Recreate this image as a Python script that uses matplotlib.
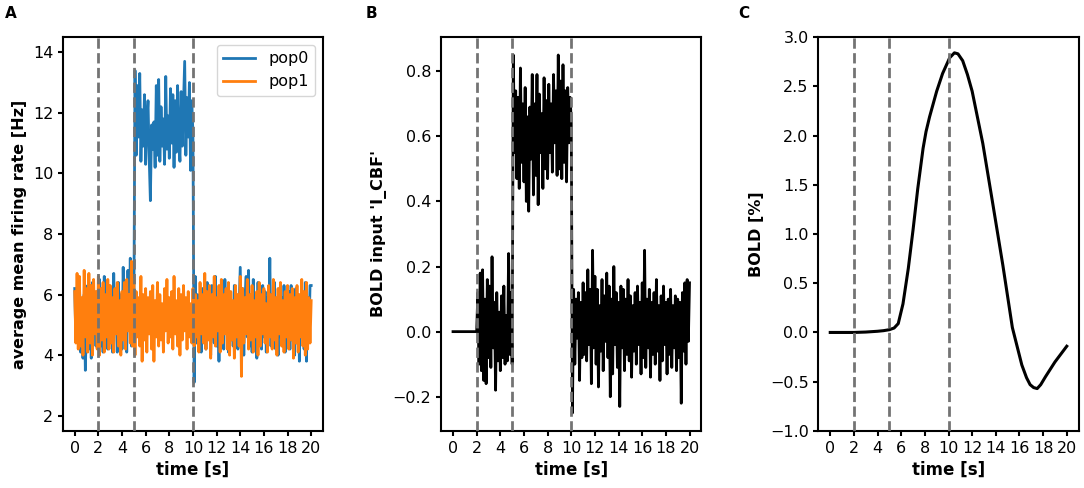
import numpy as np
import matplotlib
matplotlib.use('Agg')
import matplotlib.pyplot as plt

# sampling grid of the rate / input traces (0.1 s steps, 0..20 s)
dt = 0.1
events = [2, 5, 10]
xticks = list(range(0, 21, 2))

# panel A: average mean firing rate [Hz]
pop0 = [6.2, 4.5, 5.8, 4.4, 6.5, 4.1, 5.5, 3.9, 6.0, 3.5,
        5.2, 6.3, 4.2, 5.9, 3.9, 6.4, 4.7, 5.6, 4.3, 6.1,
        4.8, 6.5, 4.3, 5.7, 4.1, 6.6, 4.9, 5.4, 4.2, 6.3,
        4.6, 5.9, 4.1, 6.7, 4.8, 5.5, 4.1, 6.4, 4.5, 6.0,
        4.2, 6.9, 4.9, 5.8, 4.1, 6.8, 5.0, 7.2, 4.3, 6.6,
        5.1,
        13.4, 10.6, 12.9, 11.2, 13.3, 10.4, 12.1, 10.9, 12.6,
        10.3, 11.7, 12.4, 10.5, 9.1, 11.6, 10.8, 11.7, 10.2, 12.9,
        10.6, 13.1, 10.4, 12.2, 10.9, 11.8, 10.3, 13.2, 10.8, 11.9,
        10.5, 12.8, 11.0, 12.6, 10.2, 12.4, 10.7, 12.9, 11.1, 10.4,
        12.7, 10.9, 12.3, 13.7, 10.6, 12.5, 11.2, 13.0, 10.1, 12.4,
        11.3,
        3.1, 6.6, 4.4, 6.0, 4.7, 5.8, 4.1, 6.2, 4.8,
        5.9, 4.2, 6.4, 4.6, 5.7, 4.0, 6.3, 5.0, 4.4, 6.6,
        4.3, 5.8, 3.8, 6.2, 4.7, 6.0, 4.2, 6.5, 4.9, 5.5,
        4.1, 6.1, 4.5, 5.7, 4.3, 6.3, 4.8, 6.0, 4.2, 5.6,
        6.9, 4.4, 6.2, 4.0, 5.9, 6.6, 4.6, 6.8, 4.3, 5.7,
        4.1, 6.5, 4.7, 6.0, 3.9, 6.4, 4.5, 5.8, 4.2, 6.3,
        4.6, 6.1, 4.1, 5.9, 4.8, 7.2, 4.3, 6.0, 4.5, 6.4,
        4.2, 5.8, 4.0, 6.2, 4.6, 5.9, 4.3, 6.3, 4.1, 5.7,
        4.7, 6.1, 4.2, 6.3, 4.5, 5.8, 4.0, 6.2, 4.4, 5.9,
        3.8, 6.0, 4.6, 5.7, 4.2, 6.4, 3.8, 5.9, 4.5, 6.3,
        6.3]

pop1 = [6.1, 4.4, 6.7, 4.2, 6.6, 4.3, 5.9, 4.0, 6.8, 4.6,
        6.2, 4.1, 6.7, 4.4, 6.3, 4.0, 6.5, 4.7, 6.1, 4.2,
        6.6, 4.0, 6.2, 4.5, 6.4, 4.1, 6.0, 4.6, 6.5, 4.2,
        6.3, 4.4, 5.9, 4.1, 6.2, 4.7, 6.4, 4.3, 5.8, 4.0,
        6.1, 4.5, 6.4, 4.2, 6.5, 4.8, 6.0, 4.4, 7.1, 4.3,
        6.5, 4.0, 6.1, 4.6, 5.9, 4.3, 6.6, 3.8, 6.0, 4.5,
        6.2, 4.1, 5.9, 4.7, 6.1, 4.2, 6.3, 3.8, 5.8, 4.6,
        6.4, 4.3, 6.0, 4.5, 5.7, 4.1, 6.2, 4.8, 6.5, 4.4,
        5.9, 4.6, 6.1, 4.2, 6.6, 4.7, 5.8, 4.3, 6.2, 4.0,
        6.0, 4.5, 6.3, 4.8, 5.9, 4.2, 6.1, 4.6, 5.7, 4.4,
        6.2, 4.3, 6.0, 4.6, 5.8, 4.1, 6.4, 4.7, 6.0, 4.4,
        6.7, 4.2, 6.1, 4.5, 6.3, 3.9, 6.0, 4.6, 6.6, 4.3,
        5.9, 4.8, 6.3, 4.1, 6.5, 4.4, 6.0, 4.7, 6.2, 4.2,
        6.4, 4.0, 6.1, 4.5, 5.8, 3.9, 6.3, 4.6, 6.0, 4.3,
        6.6, 3.3, 6.2, 4.4, 5.9, 4.7, 6.5, 4.2, 6.0, 4.5,
        6.3, 4.1, 5.8, 4.6, 6.1, 4.0, 6.4, 4.3, 6.0, 4.7,
        6.2, 4.4, 5.7, 4.1, 6.3, 4.6, 6.0, 4.2, 6.5, 4.5,
        5.9, 4.0, 6.2, 4.7, 6.4, 4.3, 5.8, 4.1, 6.1, 4.6,
        6.3, 4.2, 6.0, 4.5, 6.2, 3.9, 5.9, 4.4, 6.3, 4.1,
        6.0, 4.6, 6.5, 4.3, 6.1, 4.0, 6.4, 4.2, 5.9, 4.4,
        5.8]

# panel B: BOLD input 'I_CBF'
i_cbf = [0.0] * 21 + [
    0.12, -0.10, 0.18, -0.12, 0.19, -0.15, 0.10, -0.16, 0.16,
    -0.08, 0.14, -0.11, 0.23, -0.05, 0.09, -0.18, 0.12, -0.09, 0.06,
    -0.12, 0.11, -0.08, 0.14, -0.10, 0.05, -0.09, 0.24, -0.07, 0.12,
    -0.10,
    0.85, 0.55, 0.74, 0.47, 0.72, 0.44, 0.81, 0.52, 0.70,
    0.46, 0.75, 0.40, 0.66, 0.37, 0.69, 0.53, 0.79, 0.42, 0.70,
    0.48, 0.79, 0.39, 0.73, 0.55, 0.67, 0.44, 0.78, 0.50, 0.71,
    0.47, 0.76, 0.55, 0.70, 0.49, 0.79, 0.58, 0.74, 0.48, 0.85,
    0.50, 0.77, 0.47, 0.82, 0.52, 0.74, 0.46, 0.75, 0.58, 0.72,
    0.65,
    -0.25, 0.13, -0.10, 0.10, -0.02, 0.12, -0.15, 0.09, -0.08,
    0.15, -0.07, 0.12, -0.09, 0.19, -0.04, 0.13, -0.16, 0.25, -0.05,
    0.17, -0.10, 0.13, -0.17, 0.08, -0.06, 0.16, -0.12, 0.11, -0.03,
    0.18, -0.08, 0.14, -0.20, 0.10, -0.13, 0.20, -0.04, 0.12, -0.11,
    0.09, -0.23, 0.14, -0.05, 0.13, -0.12, 0.10, -0.07, 0.16, -0.09,
    0.11, -0.14, 0.08, -0.06, 0.12, -0.10, 0.14, -0.04, 0.09, -0.13,
    0.15, -0.08, 0.25, -0.11, 0.10, -0.05, 0.13, -0.14, 0.09, -0.07,
    0.12, -0.10, 0.16, -0.06, 0.08, -0.15, 0.11, -0.09, 0.14, -0.04,
    0.09, -0.13, 0.10, -0.07, 0.13, -0.11, 0.08, -0.05, 0.11, -0.12,
    0.10, -0.08, 0.09, -0.22, 0.12, -0.06, 0.15, -0.10, 0.16, -0.03,
    0.15]

# panel C: BOLD signal [%]
bold_time = [0, 1, 2, 3, 4, 4.5, 5.0, 5.4, 5.75, 6.15, 6.6, 7.0, 7.4, 7.85,
             8.1, 8.4, 9.0, 9.5, 10.1, 10.5, 10.8, 11.2, 11.6, 12.0, 12.9,
             13.7, 14.6, 15.4, 16.2, 16.6, 16.9, 17.2, 17.5, 17.8, 18.2,
             19.0, 20.0]
bold = [0, 0, 0, 0.004, 0.012, 0.018, 0.028, 0.045, 0.09, 0.29, 0.65, 1.04,
        1.46, 1.87, 2.04, 2.19, 2.45, 2.63, 2.79, 2.84, 2.83, 2.76, 2.62,
        2.45, 1.92, 1.34, 0.68, 0.05, -0.33, -0.46, -0.53, -0.56, -0.57,
        -0.53, -0.45, -0.30, -0.14]

time = np.arange(len(pop0)) * dt

plt.rcParams['font.family'] = 'DejaVu Sans'
plt.rcParams['font.size'] = 11.5
plt.rcParams['axes.linewidth'] = 1.5
plt.rcParams['xtick.major.width'] = 1.5
plt.rcParams['ytick.major.width'] = 1.5

fig = plt.figure(figsize=(10.84, 4.88), dpi=100)
ax_a = fig.add_axes([0.058, 0.117, 0.240, 0.807])
ax_b = fig.add_axes([0.407, 0.117, 0.240, 0.807])
ax_c = fig.add_axes([0.755, 0.117, 0.240, 0.807])

# A
ax_a.plot(time, pop0, color='#1f77b4', lw=2, label='pop0')
ax_a.plot(time, pop1, color='#ff7f0e', lw=2, label='pop1')
ax_a.set_ylim(1.5, 14.5)
ax_a.set_yticks([2, 4, 6, 8, 10, 12, 14])
ax_a.set_ylabel('average mean firing rate [Hz]', fontweight='bold', fontsize=11.5)
ax_a.legend(loc='upper right', fontsize=11.5)

# B
ax_b.plot(time, i_cbf, color='k', lw=2)
ax_b.set_ylabel("BOLD input 'I_CBF'", fontweight='bold', fontsize=11.5)

# C
ax_c.plot(bold_time, bold, color='k', lw=2.2)
ax_c.set_ylim(-1.0, 3.0)
ax_c.set_ylabel('BOLD [%]', fontweight='bold', fontsize=11.5)

for ax in (ax_a, ax_b, ax_c):
    ylim = ax.get_ylim()
    for ev in events:
        ax.axvline(ev, color='0.45', ls='--', lw=2, zorder=3)
    ax.set_ylim(ylim)
    ax.set_xlim(-1, 21)
    ax.set_xticks(xticks)
    ax.set_xlabel('time [s]', fontweight='bold', fontsize=12)

for x, letter in [(0.005, 'A'), (0.337, 'B'), (0.681, 'C')]:
    fig.text(x, 0.973, letter, fontsize=11, fontweight='bold', va='center')

fig.savefig('out.png', dpi=100)
